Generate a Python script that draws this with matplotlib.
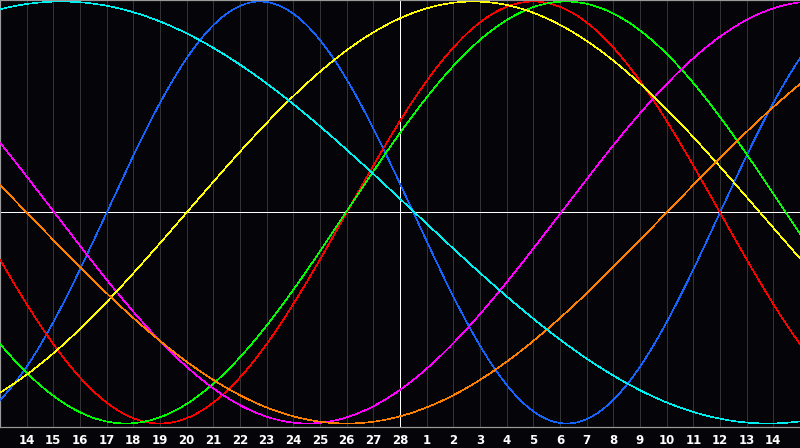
import numpy as np
import matplotlib
matplotlib.use("Agg")
import matplotlib.pyplot as plt

# Day labels along the bottom axis (previous month 14..28, current month 1..14)
day_labels = [str(d) for d in range(14, 29)] + [str(d) for d in range(1, 15)]
today_index = 15  # position of "28" (white vertical line)

# Biorhythm cycles: period (days) and ascending zero-crossing (chart day units)
cycle_names = ["physical", "emotional", "intellectual", "intuitive", "aesthetic", "awareness", "spiritual"]
cycle_periods = [23, 28, 33, 38, 43, 48, 53]
cycle_zero_day = [4.0, 13.0, 12.97, 21.04, 7.0, 25.0, -10.95]
cycle_colors = ["#1464ff", "#ff0000", "#00ff00", "#ff00ff", "#ffff00", "#ff8000", "#00f0f0"]

BG = "#050408"
W, H = 800, 448
fig = plt.figure(figsize=(W / 100, H / 100), dpi=100, facecolor=BG)
axis_bottom_px = 427
ax = fig.add_axes([0, (H - axis_bottom_px) / H, 1, axis_bottom_px / H])
ax.set_facecolor(BG)

n_units = len(day_labels) + 1
ax.set_xlim(0, n_units)
center_px = 212.5
amp_px = 211.0
ax.set_ylim((center_px - axis_bottom_px) / amp_px, center_px / amp_px)

px = 0.72  # one pixel in points

# vertical grid lines
for k in range(1, n_units):
    ax.axvline(k, color="#333333", lw=0.9 * px, zorder=1, antialiased=False)

# centre and today lines
ax.axhline(0, color="white", lw=0.9 * px, zorder=2, antialiased=False)
ax.axvline(today_index, color="white", lw=0.9 * px, zorder=2, antialiased=False)

t = np.linspace(0, n_units, 2401)
for P, z, c in zip(cycle_periods, cycle_zero_day, cycle_colors):
    ax.plot(t, np.sin(2 * np.pi * (t - z) / P), color=c, lw=0.6 * px, zorder=3,
            antialiased=False, solid_joinstyle="miter")

ax.set_xticks(range(1, n_units))
ax.set_xticklabels(day_labels, color="white", fontsize=8.5, fontweight="bold", family="DejaVu Sans")
ax.tick_params(axis="x", length=0, pad=5)
ax.set_yticks([])

for s in ["left", "top", "bottom"]:
    ax.spines[s].set_color("#9a9a9a")
    ax.spines[s].set_linewidth(1.2 * px)
ax.spines["right"].set_visible(False)

fig.savefig("out.png", dpi=100, facecolor=BG)
